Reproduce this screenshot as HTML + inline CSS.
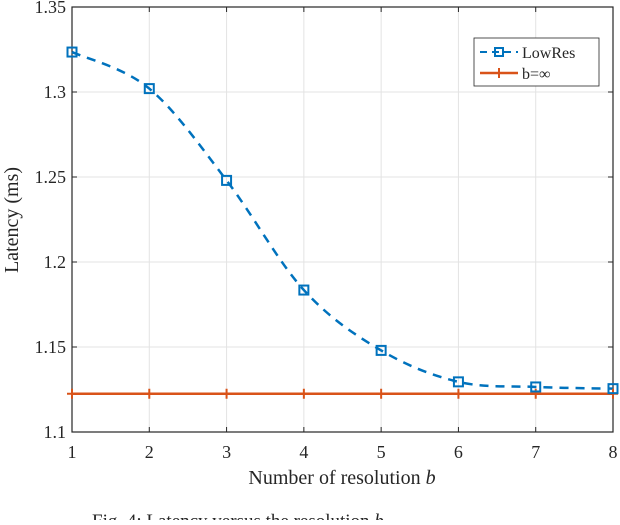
<!DOCTYPE html>
<html><head><style>
body{margin:0;background:#fff;width:620px;height:520px;overflow:hidden}
svg text{font-family:"Liberation Serif",serif;fill:#262626}
</style></head><body>
<svg width="620" height="520">
<g id="grid"></g>
<g id="axes"></g>
<g id="series"></g>
<text x="342" y="484" font-size="20" text-anchor="middle">Number of resolution <tspan font-style="italic">b</tspan></text>
<text transform="translate(18,220) rotate(-90)" font-size="20" text-anchor="middle">Latency (ms)</text>
<text x="92" y="527" font-size="19">Fig. 4: Latency versus the resolution <tspan font-style="italic">b</tspan></text>
<g>
<rect x="474" y="38" width="125" height="48" fill="#fff" stroke="#262626" stroke-width="0.8"/>
<g>
<line x1="480" y1="52" x2="518" y2="52" stroke="#0072BD" stroke-width="2" stroke-dasharray="7,5"/>
<rect x="495" y="48" width="8" height="8" fill="none" stroke="#0072BD" stroke-width="2"/>
<text x="522" y="58" font-size="16">LowRes</text></g>
<g>
<line x1="480" y1="73" x2="518" y2="73" stroke="#D95319" stroke-width="2.5"/>
<path d="M499 68V78M494 73H504" stroke="#D95319" stroke-width="2"/>
<text x="522" y="79" font-size="16">b=∞</text></g>
</g>
</svg>
<script>
const xs=[1,2,3,4,5,6,7,8];
const lowRes=[1.3235,1.302,1.248,1.1835,1.148,1.1295,1.1265,1.1255];
const bInf=[1.1225,1.1225,1.1225,1.1225,1.1225,1.1225,1.1225,1.1225];
const yTicks=[1.1,1.15,1.2,1.25,1.3,1.35];
const yLabels=["1.1","1.15","1.2","1.25","1.3","1.35"];
const L=72,R=613,T=7,B=432;
const X=v=>L+(v-1)/7*(R-L);
const Y=v=>B-(v-1.1)/0.25*(B-T);
const NS="http://www.w3.org/2000/svg";
function mk(p,t,a){const e=document.createElementNS(NS,t);for(const k in a)e.setAttribute(k,a[k]);p.appendChild(e);return e;}
const g=document.getElementById('grid'),ax=document.getElementById('axes'),s=document.getElementById('series');
xs.forEach(v=>{const l=mk(g,'line',{x1:X(v),x2:X(v),y1:T,y2:B,stroke:'#e3e3e3','stroke-width':1});


const t=mk(ax,'text',{x:X(v),y:B+26,'font-size':18,'text-anchor':'middle'});t.textContent=v;


mk(ax,'line',{x1:X(v),x2:X(v),y1:B,y2:B-5,stroke:'#262626'});mk(ax,'line',{x1:X(v),x2:X(v),y1:T,y2:T+5,stroke:'#262626'});});
yTicks.forEach((v,i)=>{const l=mk(g,'line',{x1:L,x2:R,y1:Y(v),y2:Y(v),stroke:'#e3e3e3','stroke-width':1});


const t=mk(ax,'text',{x:L-6,y:Y(v)+6,'font-size':18,'text-anchor':'end'});t.textContent=yLabels[i];


mk(ax,'line',{x1:L,x2:L+5,y1:Y(v),y2:Y(v),stroke:'#262626'});mk(ax,'line',{x1:R,x2:R-5,y1:Y(v),y2:Y(v),stroke:'#262626'});});
mk(ax,'rect',{x:L,y:T,width:R-L,height:B-T,fill:'none',stroke:'#262626','stroke-width':1.2});
// smooth curve (Catmull-Rom)
const P=xs.map((v,i)=>[X(v),Y(lowRes[i])]);
let d='M'+P[0];
for(let i=0;i<P.length-1;i++){const p0=P[Math.max(0,i-1)],p1=P[i],p2=P[i+1],p3=P[Math.min(P.length-1,i+2)];
d+=` C${p1[0]+(p2[0]-p0[0])/6},${p1[1]+(p2[1]-p0[1])/6} ${p2[0]-(p3[0]-p1[0])/6},${p2[1]-(p3[1]-p1[1])/6} ${p2[0]},${p2[1]}`;}
const c=mk(s,'path',{d:d,fill:'none',stroke:'#0072BD','stroke-width':2.5,'stroke-dasharray':'9,7'});


const bl=mk(s,'line',{x1:X(xs[0]),x2:X(xs[xs.length-1]),y1:Y(bInf[0]),y2:Y(bInf[bInf.length-1]),stroke:'#D95319','stroke-width':2.5});


xs.forEach((v,i)=>{const x=X(v),y=Y(bInf[i]);
const m=mk(s,'path',{d:`M${x} ${y-5}V${y+5}M${x-5} ${y}H${x+5}`,stroke:'#D95319','stroke-width':2});

});
xs.forEach((v,i)=>{const x=X(v),y=Y(lowRes[i]);
const m=mk(s,'rect',{x:x-4.5,y:y-4.5,width:9,height:9,fill:'none',stroke:'#0072BD','stroke-width':2});

});
</script>
</body></html>
